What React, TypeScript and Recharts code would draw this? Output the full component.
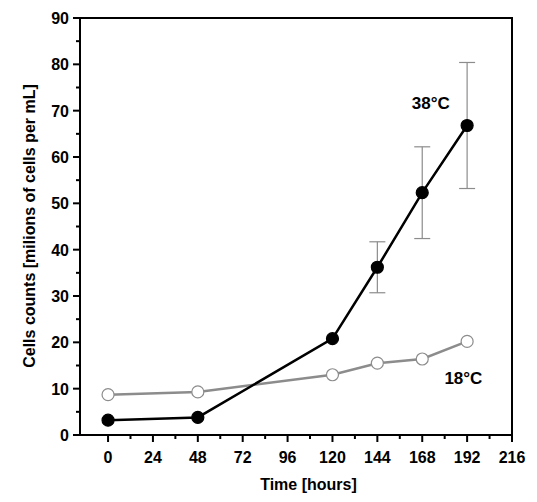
import { LineChart, Line, XAxis, YAxis, ErrorBar, ReferenceDot, ReferenceArea } from 'recharts'

const hours = [0, 48, 120, 144, 168, 192]
const warm = [3.2, 3.8, 20.8, 36.2, 52.3, 66.8]
const warmErr = [0, 0, 0, 5.5, 9.9, 13.6]
const cold = [8.7, 9.3, 13.0, 15.5, 16.4, 20.2]

const xTicks = [0, 12, 24, 36, 48, 60, 72, 84, 96, 108, 120, 132, 144, 156, 168, 180, 192, 204, 216]
const yTicks = [0, 5, 10, 15, 20, 25, 30, 35, 40, 45, 50, 55, 60, 65, 70, 75, 80, 85, 90]

const data = hours.map((h, i) => ({ h, warm: warm[i], err: warmErr[i], cold: cold[i] }))

const font = { fontFamily: 'Liberation Sans, Arial, sans-serif', fontWeight: 700 }

function XTick(props: any) {
  const { x, y, payload } = props
  const major = payload.value % 24 === 0
  return (
    <g>
      <line x1={x} x2={x} y1={y - 8} y2={y - 8 + (major ? 7 : 4)} stroke="#000" strokeWidth={2} />
      {major && (
        <text x={x} y={y + 20} textAnchor="middle" fontSize={16} style={font} fill="#000">{payload.value}</text>
      )}
    </g>
  )
}

function YTick(props: any) {
  const { x, y, payload } = props
  const major = payload.value % 10 === 0
  return (
    <g>
      <line x1={x + 8} x2={x + 8 - (major ? 7 : 4)} y1={y} y2={y} stroke="#000" strokeWidth={2} />
      {major && (
        <text x={x - 3} y={y + 6} textAnchor="end" fontSize={16} style={font} fill="#000">{payload.value}</text>
      )}
    </g>
  )
}

const dot = (fill: string, stroke: string) => ({ r: 6, fill, stroke, strokeWidth: 1.2 })

export default function App() {
  return (
    <div style={{ margin: -8, background: '#fff' }}>
      <div style={{ position: 'relative', width: 537, height: 502 }}>
        <LineChart width={537} height={502} data={data} margin={{ top: 18, right: 25, bottom: 66, left: 79 }}>
          <XAxis dataKey="h" type="number" domain={[-15, 216]} ticks={xTicks} allowDataOverflow height={1}
            axisLine={{ stroke: '#000', strokeWidth: 2 }} tickLine={false} tick={<XTick />} interval={0} />
          <YAxis type="number" domain={[0, 90]} ticks={yTicks} width={1}
            axisLine={{ stroke: '#000', strokeWidth: 2 }} tickLine={false} tick={<YTick />} interval={0} />
          <ReferenceArea x1={-15} x2={216} y1={0} y2={90} fill="none" stroke="#000" strokeWidth={2} ifOverflow="visible" />
          <Line dataKey="cold" stroke="#8c8c8c" strokeWidth={2.5} dot={dot('#fff', '#8c8c8c')} isAnimationActive={false} />
          <Line dataKey="warm" stroke="#000" strokeWidth={2.5} dot={dot('#000', '#000')} isAnimationActive={false}>
            <ErrorBar dataKey="err" width={8} stroke="#8c8c8c" strokeWidth={1.2} />
          </Line>
          <ReferenceDot x={172.6} y={71.7} r={0} label={{ value: '38°C', fontSize: 17, fill: '#000', style: font }} />
          <ReferenceDot x={190} y={12.3} r={0} label={{ value: '18°C', fontSize: 17, fill: '#000', style: font }} />
        </LineChart>
        <div style={{ position: 'absolute', left: 0, top: 476, width: 537, paddingLeft: 80, boxSizing: 'border-box', textAlign: 'center', fontSize: 16, ...font }}>
          Time [hours]
        </div>
        <div style={{ position: 'absolute', left: 30, top: 226, transform: 'translate(-50%, -50%) rotate(-90deg)', whiteSpace: 'nowrap', fontSize: 16, ...font }}>
          Cells counts [milions of cells per mL]
        </div>
      </div>
    </div>
  )
}
